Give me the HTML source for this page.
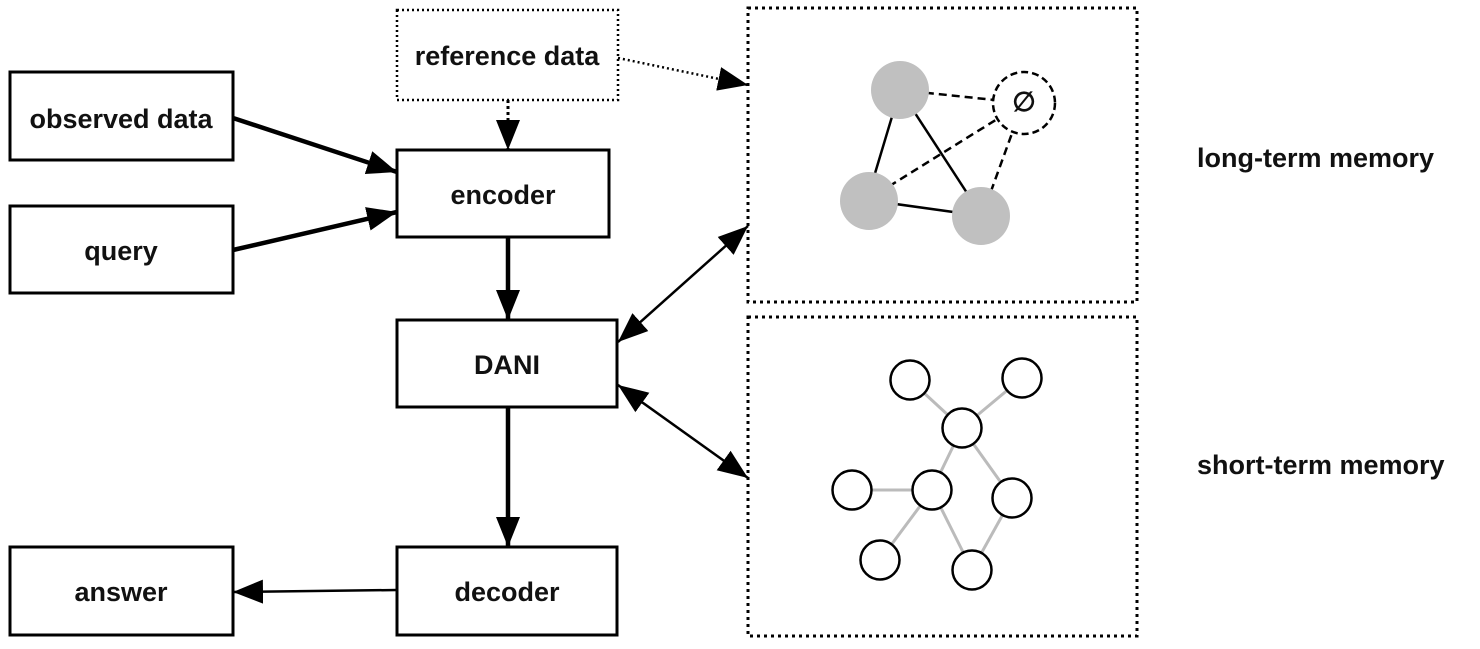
<!DOCTYPE html>
<html><head><style>
body{margin:0;background:#fff;width:1480px;height:644px;overflow:hidden}
text{font-family:"Liberation Sans",sans-serif;font-size:27px;font-weight:bold;fill:#111}
</style></head><body>
<svg width="1480" height="644" xmlns="http://www.w3.org/2000/svg">
<defs>
<marker id="b" markerWidth="30" markerHeight="28" refX="30" refY="14" orient="auto-start-reverse" markerUnits="userSpaceOnUse" viewBox="0 0 30 28"><path d="M0,2L30,14L0,26z"/></marker>
</defs>
<g fill="none" stroke="#000" stroke-width="3">
<rect x="10" y="72" width="223" height="88"/>
<rect x="10" y="206" width="223" height="87"/>
<rect x="397" y="150" width="212" height="87"/>
<rect x="397" y="320" width="220" height="87"/>
<rect x="397" y="547" width="220" height="88"/>
<rect x="10" y="547" width="223" height="88"/>
<rect x="397" y="10" width="221" height="90" stroke-dasharray="2,3" stroke-width="2.5"/>
<rect x="748" y="8" width="389" height="294" stroke-dasharray="3,4" stroke-width="3"/>
<rect x="748" y="317" width="389" height="319" stroke-dasharray="3,4" stroke-width="3"/>
</g>
<g stroke="#000" fill="none">
<line x1="233" y1="118" x2="397" y2="172" stroke-width="4.5" marker-end="url(#b)"/>
<line x1="233" y1="250" x2="397" y2="212" stroke-width="4.5" marker-end="url(#b)"/>
<line x1="508" y1="100" x2="508" y2="150" stroke-width="3" stroke-dasharray="3,3" marker-end="url(#b)"/>
<line x1="508" y1="237" x2="508" y2="320" stroke-width="4.5" marker-end="url(#b)"/>
<line x1="508" y1="407" x2="508" y2="547" stroke-width="4.5" marker-end="url(#b)"/>
<line x1="397" y1="590" x2="233" y2="592" stroke-width="2.5" marker-end="url(#b)"/>
<line x1="618" y1="342" x2="748" y2="226" stroke-width="2.5" marker-start="url(#b)" marker-end="url(#b)"/>
<line x1="618" y1="385" x2="748" y2="478" stroke-width="2.5" marker-start="url(#b)" marker-end="url(#b)"/>
<line x1="618" y1="58" x2="748" y2="85" stroke-width="2.5" stroke-dasharray="2,3" marker-end="url(#b)"/>
</g>
<g>
<text x="121" y="128" text-anchor="middle">observed data</text>
<text x="121" y="260" text-anchor="middle">query</text>
<text x="507" y="65" text-anchor="middle">reference data</text>
<text x="503" y="204" text-anchor="middle">encoder</text>
<text x="507" y="374" text-anchor="middle">DANI</text>
<text x="507" y="601" text-anchor="middle">decoder</text>
<text x="121" y="601" text-anchor="middle">answer</text>
<text x="1197" y="167" font-size="28">long-term memory</text>
<text x="1197" y="474" font-size="28">short-term memory</text>
</g>
<g stroke="#000" stroke-width="2.5">
<line x1="900" y1="90" x2="867" y2="200"/>
<line x1="900" y1="90" x2="982" y2="216"/>
<line x1="867" y1="200" x2="982" y2="216"/>
<line x1="900" y1="90" x2="1023" y2="103" stroke-dasharray="8,5"/>
<line x1="867" y1="200" x2="1023" y2="103" stroke-dasharray="8,5"/>
<line x1="982" y1="216" x2="1023" y2="103" stroke-dasharray="8,5"/>
</g>
<g fill="#c0c0c0">
<circle cx="900" cy="90" r="29"/>
<circle cx="869" cy="201" r="29"/>
<circle cx="981" cy="216" r="29"/>
</g>
<circle cx="1024" cy="103" r="31" fill="#fff" stroke="#000" stroke-width="2.5" stroke-dasharray="7,4"/>
<text x="1024" y="111" text-anchor="middle" font-size="22" font-weight="normal">∅</text>
<g stroke="#bbb" stroke-width="3">
<line x1="910" y1="380" x2="962" y2="428"/>
<line x1="1022" y1="378" x2="962" y2="428"/>
<line x1="962" y1="428" x2="932" y2="490"/>
<line x1="962" y1="428" x2="1012" y2="498"/>
<line x1="852" y1="490" x2="932" y2="490"/>
<line x1="932" y1="490" x2="880" y2="560"/>
<line x1="932" y1="490" x2="972" y2="570"/>
<line x1="1012" y1="498" x2="972" y2="570"/>
</g>
<g fill="#fff" stroke="#000" stroke-width="2.5">
<circle cx="910" cy="380" r="19.5"/>
<circle cx="1022" cy="378" r="19.5"/>
<circle cx="962" cy="428" r="19.5"/>
<circle cx="852" cy="490" r="19.5"/>
<circle cx="932" cy="490" r="19.5"/>
<circle cx="1012" cy="498" r="19.5"/>
<circle cx="880" cy="560" r="19.5"/>
<circle cx="972" cy="570" r="19.5"/>
</g>
</svg>
</body></html>
